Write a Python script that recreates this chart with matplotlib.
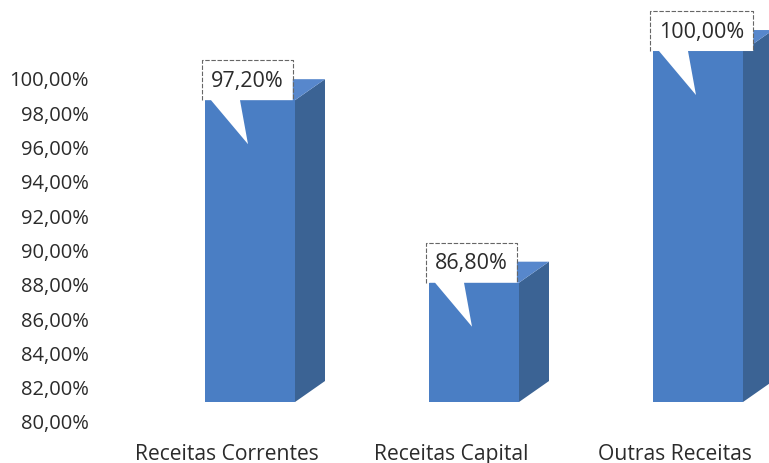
import matplotlib
matplotlib.use('Agg')
import matplotlib.pyplot as plt
from matplotlib.patches import Polygon
from matplotlib.transforms import Affine2D, IdentityTransform, ScaledTranslation

# Data
categories = ['Receitas Correntes', 'Receitas Capital', 'Outras Receitas']
values = [97.20, 86.80, 100.00]
y_ticks = [80, 82, 84, 86, 88, 90, 92, 94, 96, 98, 100]

def pt_br(v):
    return f"{v:.2f}".replace('.', ',') + '%'

plt.rcParams['font.family'] = ['Open Sans', 'DejaVu Sans']
text_color = '#2b2b2b'
front_color = '#4a7ec4'
side_color = '#3b6394'
top_color = '#5787cc'

W, H, DPI = 769, 464, 100
fig = plt.figure(figsize=(W / DPI, H / DPI), dpi=DPI)
fig.patch.set_facecolor('white')

# axes placed so the value ticks sit where the reference puts them
ax = fig.add_axes([100 / W, 42 / H, 669 / W, 343 / H])
ax.set_ylim(80, 100)
ax.set_xlim(-150 / 224, 519 / 224)
for s in ax.spines.values():
    s.set_visible(False)
ax.set_yticks(y_ticks)
ax.set_yticklabels([pt_br(t) for t in y_ticks])
ax.tick_params(axis='y', length=0, pad=8, labelsize=14.5, labelcolor=text_color)
ax.set_xticks(range(len(categories)))
ax.set_xticklabels(categories)
ax.tick_params(axis='x', length=0, pad=16, labelsize=15.2, labelcolor=text_color)
for lab in ax.get_xticklabels():
    lab.set_transform(lab.get_transform() + ScaledTranslation(-23 / DPI, 0, fig.dpi_scale_trans))

# front faces are a bit larger / higher than the back wall (3D perspective)
front_tr = ax.transData + Affine2D().scale(1, 1.0233).translate(0, 18)
bar_w = 90 / 224
dx, dy = 30, 21
xs = list(range(len(categories)))
ax.bar(xs, [v - 80 for v in values], bottom=80, width=bar_w, color=front_color,
       transform=front_tr, zorder=3, clip_on=False)

pix = IdentityTransform()
renderer = fig.canvas.get_renderer()
for x, v in zip(xs, values):
    xl, yb = front_tr.transform((x - bar_w / 2, 80))
    xr, yt = front_tr.transform((x + bar_w / 2, v))
    side = Polygon([(xr, yb), (xr + dx, yb + dy), (xr + dx, yt + dy), (xr, yt)],
                   closed=True, facecolor=side_color, edgecolor='none',
                   transform=pix, zorder=2)
    top = Polygon([(xl, yt), (xr, yt), (xr + dx, yt + dy), (xl + dx, yt + dy)],
                  closed=True, facecolor=top_color, edgecolor='none',
                  transform=pix, zorder=2)
    fig.add_artist(side)
    fig.add_artist(top)

    # callout label, box sized to its text
    txt = fig.text(0, 0, pt_br(v), ha='center', va='center',
                   fontsize=15.5, color=text_color, zorder=7)
    tw = txt.get_window_extent(renderer).width
    bl, bw, bh = xl - 3, max(90, tw + 18), 40
    txt.set_position(((bl + bw / 2) / W, (yt + bh / 2) / H))
    shape = [(bl, yt), (bl + 9, yt), (bl + 46, yt - 44), (bl + 38, yt),
             (bl + bw, yt), (bl + bw, yt + bh), (bl, yt + bh)]
    fig.add_artist(Polygon(shape, closed=True, facecolor='white', edgecolor='none',
                           transform=pix, zorder=5))
    fig.add_artist(plt.Line2D([bl, bl, bl + bw, bl + bw], [yt, yt + bh, yt + bh, yt],
                              color='#666666', lw=0.8, linestyle=(0, (4, 1.5)),
                              transform=pix, zorder=6))

fig.savefig('out.png', dpi=DPI, facecolor='white')
